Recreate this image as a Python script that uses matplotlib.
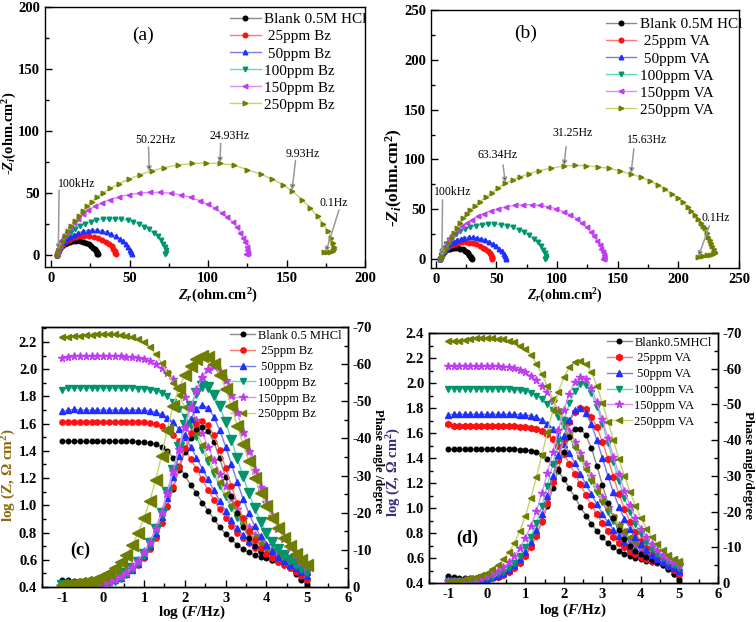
import matplotlib
matplotlib.use("Agg")
import matplotlib.pyplot as plt
from matplotlib.ticker import MultipleLocator, FormatStrFormatter

plt.rcParams.update({
    "font.family": ["Liberation Serif", "DejaVu Serif"],
    "font.weight": "bold",
    "mathtext.fontset": "custom",
    "mathtext.rm": "Liberation Serif:bold",
    "mathtext.it": "Liberation Serif:bold:italic",
    "mathtext.bf": "Liberation Serif:bold",
    "axes.unicode_minus": False,
    "axes.linewidth": 1.0,
})

# ---------------- data: Nyquist (a) Bz ----------------
a_blank_zr = [3.5, 4.0, 4.8, 5.8, 7.0, 8.5, 10.2, 12.0, 14.0, 16.0, 18.0, 20.0, 22.0, 23.8, 25.4, 26.7, 27.7, 28.5, 29.0, 29.3, 29.5]
a_blank_zi = [0.0, 2.0, 3.9, 5.6, 7.2, 8.6, 9.7, 10.5, 11.0, 11.2, 11.0, 10.5, 9.6, 8.4, 7.0, 5.6, 4.2, 2.9, 1.8, 0.9, 0.3]
a_25_zr = [3.5, 4.0, 4.9, 6.0, 7.4, 9.0, 11.0, 13.2, 15.6, 18.2, 21.0, 24.0, 27.0, 29.8, 32.5, 34.8, 36.8, 38.4, 39.6, 40.4, 40.9, 41.2]
a_25_zi = [0.0, 2.2, 4.5, 6.6, 8.6, 10.4, 12.0, 13.3, 14.3, 14.9, 15.2, 15.1, 14.5, 13.5, 12.1, 10.4, 8.6, 6.7, 4.8, 3.1, 1.6, 0.4]
a_50_zr = [3.5, 4.0, 5.0, 6.3, 7.9, 9.8, 12.0, 14.5, 17.2, 20.1, 23.1, 26.2, 29.3, 32.4, 35.4, 38.3, 41.0, 43.5, 45.7, 47.6, 49.1, 50.2, 50.9, 51.2]
a_50_zi = [0.0, 2.6, 5.3, 7.9, 10.3, 12.5, 14.5, 16.2, 17.6, 18.7, 19.4, 19.7, 19.6, 19.0, 18.0, 16.6, 14.9, 12.9, 10.7, 8.4, 6.1, 3.9, 1.9, 0.5]
a_100_zr = [3.5, 4.1, 5.1, 6.5, 8.2, 10.2, 12.6, 15.3, 18.3, 21.6, 25.1, 28.8, 32.7, 36.7, 40.7, 44.7, 48.6, 52.4, 56.0, 59.4, 62.5, 65.3, 67.8, 69.9, 71.5, 72.6, 73.2, 73.3, 72.8]
a_100_zi = [0.0, 3.2, 6.5, 9.7, 12.8, 15.7, 18.4, 20.9, 23.1, 25.0, 26.6, 27.8, 28.6, 29.0, 29.0, 28.6, 27.8, 26.5, 24.8, 22.7, 20.3, 17.6, 14.7, 11.6, 8.6, 5.8, 3.4, 1.6, 0.8]
a_150_zr = [3.5, 4.3, 5.3, 6.5, 8.0, 9.8, 11.9, 14.3, 17.0, 20.1, 23.6, 27.6, 32.2, 37.4, 43.2, 49.4, 56.0, 62.8, 69.6, 76.3, 82.8, 89.0, 94.8, 100.0, 104.6, 108.6, 112.3, 115.6, 118.4, 120.6, 122.3, 123.6, 124.5, 125.0, 125.2, 124.8, 124.2]
a_150_zi = [0.0, 3.6, 7.3, 11.0, 14.7, 18.4, 22.0, 25.6, 29.1, 32.5, 35.8, 38.9, 41.8, 44.4, 46.6, 48.4, 49.7, 50.3, 50.3, 49.6, 48.2, 46.2, 43.6, 40.6, 37.3, 33.9, 30.3, 26.3, 22.1, 17.8, 13.7, 9.8, 6.3, 3.4, 1.5, 0.6, 0.3]
a_250_zr = [4.0, 4.8, 5.9, 7.4, 9.0, 10.8, 12.8, 15.0, 17.4, 20.0, 22.8, 25.8, 29.2, 33.0, 37.5, 43.0, 49.5, 56.5, 64.0, 72.0, 80.5, 89.5, 98.5, 107.5, 116.5,
            125.0, 133.5, 141.0, 147.5, 153.4, 159.8, 165.2, 169.8, 173.5, 176.4, 178.5, 179.8, 180.4, 180.4, 179.6, 178.0, 176.0, 174.0]
a_250_zi = [0.0, 3.5, 7.2, 11.2, 15.2, 19.2, 23.2, 27.2, 31.2, 35.2, 39.0, 42.8, 46.5, 50.0, 53.5, 57.2, 61.0, 64.5, 67.6, 70.3, 72.3, 73.6, 74.0, 73.6, 72.3,
            68.6, 65.0, 61.0, 56.6, 51.5, 44.5, 37.5, 30.8, 24.5, 18.8, 13.8, 9.6, 6.4, 4.2, 2.8, 2.2, 2.0, 2.0]

# ---------------- data: Nyquist (b) VA ----------------
b_blank_zr = [3.5, 4.0, 4.8, 5.8, 7.0, 8.5, 10.2, 12.0, 14.0, 16.0, 18.0, 20.0, 22.0, 23.8, 25.4, 26.7, 27.7, 28.5, 29.0, 29.3, 29.5]
b_blank_zi = [0.0, 2.0, 3.9, 5.6, 7.2, 8.6, 9.7, 10.5, 11.0, 11.2, 11.0, 10.5, 9.6, 8.4, 7.0, 5.6, 4.2, 2.9, 1.8, 0.9, 0.3]
b_25_zr = [3.5, 4.0, 4.9, 6.0, 7.4, 9.1, 11.1, 13.4, 15.9, 18.6, 21.5, 24.5, 27.6, 30.6, 33.5, 36.2, 38.7, 40.9, 42.8, 44.3, 45.4, 46.1, 46.5, 46.6]
b_25_zi = [0.0, 2.3, 4.7, 7.0, 9.2, 11.1, 12.8, 14.2, 15.3, 16.1, 16.6, 16.7, 16.4, 15.7, 14.6, 13.2, 11.5, 9.6, 7.6, 5.6, 3.7, 2.1, 0.9, 0.3]
b_50_zr = [3.5, 4.1, 5.1, 6.4, 8.0, 9.9, 12.1, 14.6, 17.4, 20.4, 23.6, 27.0, 30.5, 34.0, 37.5, 40.9, 44.1, 47.1, 49.8, 52.2, 54.3, 55.9, 57.1, 57.8, 58.1]
b_50_zi = [0.0, 2.8, 5.7, 8.5, 11.1, 13.5, 15.7, 17.6, 19.2, 20.4, 21.3, 21.7, 21.7, 21.2, 20.3, 19.0, 17.3, 15.2, 12.8, 10.2, 7.6, 5.1, 2.9, 1.2, 0.3]
b_100_zr = [3.5, 4.2, 5.3, 6.8, 8.7, 11.0, 13.7, 16.8, 20.3, 24.2, 28.5, 33.1, 38.0, 43.1, 48.3, 53.5, 58.6, 63.6, 68.4, 72.9, 77.0, 80.7, 83.9, 86.5, 88.5, 89.8, 90.5, 90.6, 90.2]
b_100_zi = [0.0, 3.8, 7.7, 11.5, 15.2, 18.7, 22.0, 25.0, 27.7, 30.0, 32.0, 33.5, 34.6, 35.1, 35.1, 34.6, 33.5, 31.8, 29.6, 26.9, 23.8, 20.4, 16.7, 12.9, 9.2, 5.8, 3.0, 1.2, 0.5]
b_150_zr = [3.5, 4.4, 5.6, 7.2, 9.2, 11.6, 14.4, 17.6, 21.3, 25.5, 29.8, 34.5, 39.7, 45.4, 51.6, 58.2, 65.0, 72.0, 79.0, 86.0,
            92.8, 99.3, 105.4, 111.0, 116.0, 120.4, 124.3, 127.7, 130.6, 133.0, 135.0, 136.5, 137.6, 138.4, 138.8, 138.8, 138.4, 137.8]
b_150_zi = [0.0, 4.3, 8.6, 12.9, 17.1, 21.2, 25.2, 29.0, 32.7, 36.2, 39.6, 42.8, 45.7, 48.3, 50.6, 52.5, 53.8, 54.5, 54.6, 53.9,
            52.5, 50.4, 47.6, 44.2, 40.4, 36.2, 31.8, 27.3, 22.8, 18.4, 14.2, 10.3, 6.9, 4.0, 1.9, 0.8, 0.4, 0.2]
b_250_zr = [4.0, 5.2, 6.8, 8.9, 10.9, 13.0, 15.0, 17.2, 19.8, 22.7, 25.4, 28.2, 32.0, 36.5, 41.2, 46.3, 51.6, 57.3, 63.4, 69.8, 77.2, 85.0, 95.0, 105.7, 114.5, 123.8,
            133.5, 143.1, 152.0, 161.0, 169.0, 176.3, 182.8, 188.8, 194.5, 199.9, 204.0, 207.6, 210.8, 213.7, 216.3, 218.7, 220.5, 222.0, 223.5, 224.8,
            226.0, 227.0, 228.0, 229.0, 229.8, 230.3, 228.5, 226.2, 223.5, 220.7, 218.5, 216.5]
b_250_zi = [0.0, 3.5, 7.0, 10.7, 15.7, 20.8, 25.8, 30.8, 35.8, 40.8, 45.0, 49.2, 53.5, 57.5, 62.0, 66.6, 71.4, 76.0, 79.4, 82.6, 85.8, 88.7, 91.3, 93.4, 94.0, 93.7,
            92.6, 91.0, 88.5, 85.3, 82.2, 78.6, 74.5, 70.0, 65.5, 61.0, 56.8, 52.5, 48.3, 44.2, 40.3, 36.5, 33.6, 30.8, 26.5, 22.4,
            19.0, 15.7, 12.6, 9.7, 7.5, 5.7, 5.0, 4.3, 3.8, 3.3, 2.8, 2.3]

# ---------------- data: Bode (c) Bz and (d) VA ----------------
log_f = [-1.0, -0.857, -0.714, -0.571, -0.429, -0.286, -0.143, 0.0, 0.143, 0.286, 0.429, 0.571, 0.714, 0.857, 1.0,
         1.143, 1.286, 1.429, 1.571, 1.714, 1.857, 2.0, 2.143, 2.286, 2.429, 2.571, 2.714, 2.857, 3.0,
         3.143, 3.286, 3.429, 3.571, 3.714, 3.857, 4.0, 4.143, 4.286, 4.429, 4.571, 4.714, 4.857, 5.0]

c_logz_blank = [1.47, 1.47, 1.47, 1.47, 1.47, 1.47, 1.47, 1.47, 1.47, 1.47, 1.47, 1.47, 1.47, 1.468, 1.465, 1.46, 1.45, 1.43, 1.40, 1.35, 1.29, 1.22, 1.15, 1.09,
                1.02, 0.96, 0.90, 0.84, 0.79, 0.75, 0.71, 0.68, 0.655, 0.635, 0.62, 0.61, 0.60, 0.59, 0.575, 0.55, 0.51, 0.46, 0.41]
c_logz_25 = [1.615, 1.615, 1.615, 1.615, 1.615, 1.615, 1.615, 1.615, 1.615, 1.615, 1.615, 1.615, 1.615, 1.613, 1.61, 1.605, 1.595, 1.58, 1.555, 1.52, 1.47, 1.41, 1.34, 1.27,
             1.19, 1.11, 1.04, 0.97, 0.91, 0.85, 0.80, 0.76, 0.72, 0.69, 0.665, 0.645, 0.63, 0.615, 0.60, 0.585, 0.565, 0.535, 0.50]
c_logz_50 = [1.69, 1.70, 1.705, 1.70, 1.70, 1.70, 1.70, 1.70, 1.70, 1.70, 1.70, 1.70, 1.70, 1.70, 1.698, 1.694, 1.685, 1.67, 1.645, 1.61, 1.56, 1.50, 1.43, 1.35,
             1.27, 1.19, 1.11, 1.03, 0.96, 0.89, 0.83, 0.78, 0.74, 0.705, 0.68, 0.66, 0.64, 0.625, 0.61, 0.595, 0.575, 0.55, 0.51]
c_logz_100 = [1.85, 1.86, 1.86, 1.86, 1.86, 1.86, 1.86, 1.86, 1.86, 1.86, 1.86, 1.86, 1.86, 1.858, 1.855, 1.85, 1.84, 1.825, 1.80, 1.76, 1.71, 1.65, 1.58, 1.50,
              1.41, 1.32, 1.23, 1.14, 1.06, 0.98, 0.91, 0.85, 0.80, 0.755, 0.72, 0.69, 0.665, 0.645, 0.625, 0.61, 0.59, 0.565, 0.53]
c_logz_150 = [2.085, 2.09, 2.095, 2.095, 2.095, 2.095, 2.095, 2.095, 2.095, 2.095, 2.095, 2.092, 2.088, 2.082, 2.072, 2.058, 2.04, 2.01, 1.975, 1.925, 1.865, 1.795, 1.715, 1.625,
              1.53, 1.43, 1.33, 1.23, 1.14, 1.05, 0.97, 0.90, 0.84, 0.785, 0.74, 0.705, 0.675, 0.65, 0.63, 0.61, 0.595, 0.58, 0.565]
c_logz_250 = [2.24, 2.24, 2.242, 2.246, 2.25, 2.254, 2.256, 2.256, 2.256, 2.255, 2.252, 2.247, 2.238, 2.222, 2.198, 2.162, 2.112, 2.048, 1.975, 1.895,
              1.81, 1.72, 1.63, 1.54, 1.445, 1.35, 1.26, 1.17, 1.085, 1.005, 0.935, 0.87, 0.815, 0.765, 0.725, 0.69, 0.66, 0.635, 0.615, 0.60, 0.585, 0.57, 0.555]

c_ph_blank = [2.0, 1.8, 1.6, 1.5, 1.4, 1.4, 1.5, 1.7, 2.0, 2.5, 3.1, 3.9, 5.0, 6.4, 8.2, 10.5, 13.5, 17.2, 21.6, 26.5, 31.6, 36.4, 40.2, 42.6, 43.2, 42.0, 39.0, 34.6, 29.6, 24.6,
              20.0, 16.2, 13.2, 11.0, 9.4, 8.2, 7.3, 6.6, 6.0, 5.0, 3.6, 2.0, 0.8]
c_ph_25 = [1.0, 0.9, 0.8, 0.8, 0.8, 0.9, 1.0, 1.2, 1.5, 2.0, 2.6, 3.4, 4.5, 5.9, 7.8, 10.2, 13.3, 17.2, 21.8, 27.0, 32.4, 37.4, 41.4, 44.0, 44.6, 43.6, 40.8, 36.8, 32.0, 27.2,
           22.6, 18.6, 15.2, 12.6, 10.6, 9.0, 7.8, 6.8, 5.9, 5.0, 4.0, 3.0, 2.0]
c_ph_50 = [0.8, 0.7, 0.6, 0.6, 0.6, 0.7, 0.8, 1.0, 1.3, 1.8, 2.5, 3.4, 4.6, 6.2, 8.3, 11.0, 14.5, 18.8, 24.0, 29.6, 35.4, 40.8, 45.2, 48.0, 49.0, 48.2, 45.8, 42.2, 37.8, 33.0,
           28.2, 23.8, 19.8, 16.4, 13.6, 11.4, 9.6, 8.2, 7.0, 6.0, 5.0, 4.0, 3.0]
c_ph_100 = [0.5, 0.5, 0.5, 0.5, 0.6, 0.7, 0.9, 1.1, 1.5, 2.0, 2.8, 3.8, 5.1, 6.8, 9.0, 11.8, 15.5, 20.0, 25.6, 31.6, 37.8, 43.6, 48.6, 52.2, 54.0, 53.8, 51.8, 48.6, 44.4, 39.6,
            34.6, 29.8, 25.2, 21.2, 17.6, 14.6, 12.2, 10.2, 8.6, 7.3, 6.2, 5.2, 4.2]
c_ph_150 = [0.3, 0.3, 0.3, 0.4, 0.5, 0.7, 0.9, 1.2, 1.6, 2.2, 3.0, 4.0, 5.4, 7.1, 9.4, 12.2, 15.8, 20.2, 25.4, 31.2, 37.2, 43.0, 48.4, 53.0, 56.6, 58.8, 59.4, 58.2, 55.6, 51.8,
            47.0, 41.8, 36.6, 31.6, 27.0, 22.8, 19.2, 16.0, 13.2, 10.8, 8.8, 7.0, 5.6]
c_ph_250 = [0.5, 0.6, 0.8, 1.0, 1.3, 1.7, 2.2, 2.9, 3.8, 5.0, 6.6, 8.6, 11.2, 14.6, 18.6, 23.2, 28.8, 35.4, 42.4, 48.8, 53.6, 57.0, 59.6, 61.3, 62.1, 61.8, 60.0, 57.2, 53.4, 48.6,
            43.4, 38.4, 33.8, 29.4, 25.4, 21.8, 18.6, 15.8, 13.3, 11.0, 8.9, 7.2, 5.8]

d_logz_blank = [1.47, 1.47, 1.47, 1.47, 1.47, 1.47, 1.47, 1.47, 1.47, 1.47, 1.47, 1.47, 1.47, 1.468, 1.465, 1.458, 1.445, 1.425, 1.395, 1.35, 1.295, 1.23, 1.16, 1.085,
                1.01, 0.94, 0.875, 0.815, 0.765, 0.72, 0.685, 0.655, 0.635, 0.615, 0.60, 0.59, 0.58, 0.57, 0.56, 0.545, 0.515, 0.47, 0.42]
d_logz_25 = [1.67, 1.66, 1.655, 1.655, 1.655, 1.655, 1.655, 1.655, 1.655, 1.655, 1.655, 1.655, 1.655, 1.652, 1.648, 1.642, 1.632, 1.615, 1.59, 1.55, 1.495, 1.43, 1.355, 1.275,
             1.19, 1.105, 1.025, 0.95, 0.88, 0.82, 0.765, 0.72, 0.685, 0.655, 0.63, 0.61, 0.595, 0.58, 0.57, 0.56, 0.545, 0.52, 0.48]
d_logz_50 = [1.745, 1.75, 1.75, 1.75, 1.75, 1.75, 1.75, 1.75, 1.75, 1.75, 1.75, 1.75, 1.75, 1.748, 1.745, 1.738, 1.726, 1.706, 1.676, 1.635, 1.58, 1.515, 1.44, 1.36,
             1.275, 1.19, 1.11, 1.03, 0.955, 0.885, 0.825, 0.775, 0.73, 0.695, 0.665, 0.64, 0.62, 0.605, 0.59, 0.578, 0.565, 0.548, 0.53]
d_logz_100 = [1.955, 1.955, 1.955, 1.955, 1.955, 1.955, 1.955, 1.955, 1.955, 1.955, 1.955, 1.952, 1.948, 1.942, 1.933, 1.92, 1.90, 1.873, 1.835, 1.785, 1.725, 1.655, 1.575, 1.49,
              1.40, 1.31, 1.22, 1.13, 1.045, 0.965, 0.895, 0.835, 0.78, 0.735, 0.695, 0.665, 0.64, 0.62, 0.60, 0.585, 0.57, 0.555, 0.54]
d_logz_150 = [2.135, 2.14, 2.14, 2.14, 2.14, 2.138, 2.136, 2.135, 2.135, 2.134, 2.132, 2.128, 2.12, 2.106, 2.086, 2.06, 2.025, 1.98, 1.925, 1.86,
              1.785, 1.705, 1.62, 1.53, 1.44, 1.35, 1.26, 1.17, 1.085, 1.005, 0.93, 0.865, 0.805, 0.755, 0.715, 0.68, 0.655, 0.635, 0.615, 0.60, 0.585, 0.57, 0.555]
d_logz_250 = [2.34, 2.335, 2.335, 2.345, 2.355, 2.36, 2.362, 2.362, 2.36, 2.356, 2.35, 2.34, 2.325, 2.30, 2.27, 2.225, 2.155, 2.07, 1.975, 1.875,
              1.775, 1.68, 1.585, 1.49, 1.40, 1.31, 1.225, 1.14, 1.06, 0.99, 0.925, 0.865, 0.815, 0.77, 0.73, 0.70, 0.675, 0.655, 0.635, 0.62, 0.605, 0.59, 0.58]

d_ph_blank = [2.0, 1.6, 1.4, 1.3, 1.3, 1.3, 1.4, 1.6, 1.9, 2.4, 3.0, 3.8, 4.9, 6.3, 8.1, 10.4, 13.4, 17.2, 21.6, 26.6, 31.8, 36.8, 40.8, 43.0, 43.2, 41.4, 37.8, 32.8, 27.4, 22.4,
              18.2, 14.8, 12.2, 10.4, 9.0, 8.0, 7.2, 6.5, 5.8, 5.0, 3.8, 2.4, 1.0]
d_ph_25 = [0.6, 0.5, 0.5, 0.5, 0.6, 0.7, 0.8, 1.0, 1.3, 1.7, 2.3, 3.1, 4.2, 5.6, 7.5, 10.0, 13.2, 17.4, 22.4, 28.2, 34.4, 40.2, 45.0, 48.0, 49.0, 48.6, 46.6, 43.6, 39.6, 34.8,
           29.8, 25.0, 20.8, 17.2, 14.2, 11.8, 9.8, 8.2, 7.0, 5.9, 4.8, 3.7, 2.6]
d_ph_50 = [0.8, 0.7, 0.7, 0.7, 0.8, 0.9, 1.0, 1.2, 1.6, 2.1, 2.8, 3.7, 5.0, 6.6, 8.7, 11.4, 14.9, 19.2, 24.4, 30.0, 35.8, 41.2, 45.6, 48.4, 49.0, 47.6, 44.4, 40.0, 35.0, 30.0,
           25.4, 21.4, 18.0, 15.2, 12.8, 10.8, 9.2, 7.9, 6.8, 5.8, 5.0, 4.2, 3.4]
d_ph_100 = [0.6, 0.6, 0.6, 0.7, 0.8, 0.9, 1.1, 1.4, 1.8, 2.4, 3.2, 4.3, 5.7, 7.6, 10.0, 13.0, 16.8, 21.6, 27.2, 33.4, 39.8, 45.6, 50.4, 53.8, 55.6, 55.4, 53.2, 49.4, 44.6, 39.2,
            33.8, 28.6, 23.8, 19.8, 16.4, 13.6, 11.4, 9.6, 8.2, 7.0, 6.0, 5.0, 4.2]
d_ph_150 = [0.7, 0.7, 0.7, 0.8, 1.0, 1.2, 1.5, 1.9, 2.5, 3.3, 4.4, 5.8, 7.6, 9.8, 12.6, 16.0, 20.2, 25.2, 30.8, 36.8, 42.8, 48.4, 53.0, 56.4, 57.8, 57.2, 54.6, 50.6, 45.8, 40.6,
            35.4, 30.4, 25.8, 21.8, 18.2, 15.2, 12.8, 10.8, 9.2, 7.9, 6.8, 5.9, 5.0]
d_ph_250 = [0.4, 0.5, 0.7, 1.0, 1.3, 1.7, 2.2, 2.9, 3.8, 5.0, 6.6, 8.6, 11.2, 14.6, 18.8, 23.8, 29.6, 35.8, 42.2, 48.4, 53.6, 57.6, 60.4, 61.8, 62.2, 61.4, 59.0, 55.2, 50.4, 45.2,
            40.0, 34.8, 30.0, 25.6, 21.6, 18.2, 15.2, 12.8, 10.8, 9.2, 7.8, 6.6, 5.6]

labels_a = ["Blank 0.5M HCl", " 25ppm Bz", " 50ppm Bz", "100ppm Bz", "150ppm Bz", "250ppm Bz"]
labels_b = ["Blank 0.5M HCl", " 25ppm VA", " 50ppm VA", "100ppm VA", "150ppm VA", "250ppm VA"]
labels_c = ["Blank 0.5 MHCl", " 25ppm Bz", " 50ppm Bz", "100ppm Bz", "150ppm Bz", "250ppm Bz"]
labels_d = ["Blank0.5MHCl", " 25ppm VA", " 50ppm VA", "100ppm VA", "150ppm VA", "250ppm VA"]

# ---------------- styles ----------------
line_cols = ["#8a8a8a", "#ff7878", "#7c7ce6", "#5fdcb2", "#df8cff", "#c3d56a"]
mark_cols = ["#000000", "#ff1010", "#1f2fff", "#00946f", "#c03cf0", "#6f7d00"]
nyq_mk = ["o", "o", "^", "v", "<", ">"]
c_mk = ["o", "o", "^", "v", "*", "<"]
d_mk = ["o", "h", "^", "v", "*", "<"]

W, H = 756, 622
fig = plt.figure(figsize=(W / 100, H / 100), dpi=100)


def rect(l, t, r, b):
    return [l / W, 1 - b / H, (r - l) / W, (b - t) / H]


def ftext(x, y, s, **kw):
    fig.text(x / W, 1 - y / H, s, ha="center", va="center", **kw)


def style_axis(ax, xmaj, xmin, ymaj, ymin):
    ax.xaxis.set_major_locator(MultipleLocator(xmaj))
    ax.xaxis.set_minor_locator(MultipleLocator(xmin))
    ax.yaxis.set_major_locator(MultipleLocator(ymaj))
    ax.yaxis.set_minor_locator(MultipleLocator(ymin))
    ax.tick_params(which="both", direction="in", top=False, right=False, labelsize=10.5, width=1)
    ax.tick_params(which="major", length=5)
    ax.tick_params(which="minor", length=3)


def nyquist(ax, series, labels):
    for i, (zr, zi) in enumerate(series):
        ax.plot(zr, zi, color=line_cols[i], lw=1.0, marker=nyq_mk[i], ms=3.3,
                mfc=mark_cols[i], mec=mark_cols[i], label=labels[i])


def note(ax, s, txt, start, tip):
    ax.text(txt[0], txt[1], s, ha="center", va="center", fontsize=8.5, fontweight="normal")
    ax.annotate("", xy=tip, xytext=start,
                arrowprops=dict(arrowstyle="-|>", ec="0.6", fc="k", lw=1.1,
                                mutation_scale=7, shrinkA=0, shrinkB=0))


# ---------- (a) ----------
axa = fig.add_axes(rect(45, 7, 365, 267))
nyquist(axa, [(a_blank_zr, a_blank_zi), (a_25_zr, a_25_zi), (a_50_zr, a_50_zi),
              (a_100_zr, a_100_zi), (a_150_zr, a_150_zi), (a_250_zr, a_250_zi)], labels_a)
axa.set_xlim(-4, 200)
axa.set_ylim(-10, 200)
style_axis(axa, 50, 25, 50, 25)
axa.legend(loc="upper left", bbox_to_anchor=(0.578, 0.978), frameon=False,
           prop={"size": 11, "weight": "normal"}, handlelength=2.0, handletextpad=0.2,
           labelspacing=0.22, borderpad=0, borderaxespad=0)
note(axa, "100kHz", (16, 57), (5, 52), (4.5, 4))
note(axa, "50.22Hz", (66.5, 92.6), (62, 87), (62.5, 67))
note(axa, "24.93Hz", (113.6, 95.8), (108, 90), (107.5, 74))
note(axa, "9.93Hz", (160, 81), (155.7, 76), (153.5, 52))
note(axa, "0.1Hz", (180, 41.6), (183.4, 36), (175, 2))
ftext(143, 35, "(a)", fontsize=14, fontweight="normal")
ftext(218, 296, r"$Z_r$(ohm.cm$^2$)", fontsize=10.5)
ftext(10, 133, r"-$Z_i$(ohm.cm$^2$)", fontsize=10.5, rotation=90)

# ---------- (b) ----------
axb = fig.add_axes(rect(431, 10, 739, 268))
nyquist(axb, [(b_blank_zr, b_blank_zi), (b_25_zr, b_25_zi), (b_50_zr, b_50_zi),
              (b_100_zr, b_100_zi), (b_150_zr, b_150_zi), (b_250_zr, b_250_zi)], labels_b)
axb.set_xlim(-4, 250)
axb.set_ylim(-9, 250)
style_axis(axb, 50, 25, 50, 25)
axb.legend(loc="upper left", bbox_to_anchor=(0.568, 0.97), frameon=False,
           prop={"size": 11, "weight": "normal"}, handlelength=2.0, handletextpad=0.2,
           labelspacing=0.22, borderpad=0, borderaxespad=0)
note(axb, "100kHz", (13.8, 66.8), (5.5, 59.5), (5.0, 3))
note(axb, "63.34Hz", (51.2, 104.6), (55.4, 94.6), (57.3, 76.5))
note(axb, "31.25Hz", (113, 127), (107.4, 113), (105.7, 93.5))
note(axb, "15.63Hz", (173.9, 119.6), (163.3, 110.6), (161, 86))
note(axb, "0.1Hz", (231, 41), (225.6, 33.4), (216.5, 2.5))
ftext(526, 33, "(b)", fontsize=14, fontweight="normal")
ftext(565, 296, r"$Z_r$(ohm.cm$^2$)", fontsize=10)
ftext(394, 178, r"-$Z_i$(ohm.cm$^2$)", fontsize=12.5, rotation=90)


# ---------- Bode ----------
def bode(rc, logz, ph, labels, mk, zms, pms, ylim, leg_anchor):
    ax = fig.add_axes(rc)
    ax2 = ax.twinx()
    for i in range(6):
        ax.plot(log_f, logz[i], color=line_cols[i], lw=1.0, marker=mk[i], ms=zms[i],
                mfc=mark_cols[i], mec=mark_cols[i], label=labels[i])
        ax2.plot(log_f, [-v for v in ph[i]], color=line_cols[i], lw=1.0, marker=mk[i], ms=pms[i],
                 mfc=mark_cols[i], mec=mark_cols[i])
    ax.set_xlim(-1.5, 6)
    ax.set_ylim(*ylim)
    style_axis(ax, 1, 0.5, 0.2, 0.1)
    ax.yaxis.set_major_formatter(FormatStrFormatter("%.1f"))
    ax2.set_ylim(0, -70)
    ax2.yaxis.set_major_locator(MultipleLocator(10))
    ax2.yaxis.set_minor_locator(MultipleLocator(5))
    ax2.tick_params(which="both", direction="in", labelsize=10.5, width=1)
    ax2.tick_params(which="major", length=5)
    ax2.tick_params(which="minor", length=3)
    ax.legend(loc="upper left", bbox_to_anchor=leg_anchor, frameon=False,
              prop={"size": 9, "weight": "normal"}, handlelength=2.0, handletextpad=0.2,
              labelspacing=0.3, borderpad=0, borderaxespad=0)
    return ax, ax2


c_logz = [c_logz_blank, c_logz_25, c_logz_50, c_logz_100, c_logz_150, c_logz_250]
c_ph = [c_ph_blank, c_ph_25, c_ph_50, c_ph_100, c_ph_150, c_ph_250]
d_logz = [d_logz_blank, d_logz_25, d_logz_50, d_logz_100, d_logz_150, d_logz_250]
d_ph = [d_ph_blank, d_ph_25, d_ph_50, d_ph_100, d_ph_150, d_ph_250]

bode(rect(42, 327, 348, 587), c_logz, c_ph, labels_c, c_mk,
     [3.3, 3.8, 4, 4, 5.5, 4.3], [3.3, 3.8, 5, 6.5, 6.5, 8], (0.4, 2.31), (0.615, 0.99))
ftext(80, 550, "(c)", fontsize=13)
ftext(192, 612, r"log ($F$/Hz)", fontsize=11)
ftext(9, 475, r"log (Z, $\Omega$ cm$^2$)", fontsize=11, rotation=90, color="#8a6a10")
ftext(378, 461, "Phase angle /degree", fontsize=9, rotation=270)

bode(rect(429, 333, 718, 583), d_logz, d_ph, labels_d, d_mk,
     [3.3, 4.5, 4, 4, 5.5, 4], [3.3, 4.5, 4, 4, 5.5, 4], (0.4, 2.4), (0.615, 0.985))
ftext(467, 538, "(d)", fontsize=13)
ftext(573, 610, r"log ($F$/Hz)", fontsize=11)
ftext(394, 472, r"log (Z, $\Omega$ cm$^2$)", fontsize=10.5, rotation=90, color="#3a2a80")
ftext(748, 465, "Phase angle/degree", fontsize=9.5, rotation=270)

fig.savefig("out.png", dpi=100)
